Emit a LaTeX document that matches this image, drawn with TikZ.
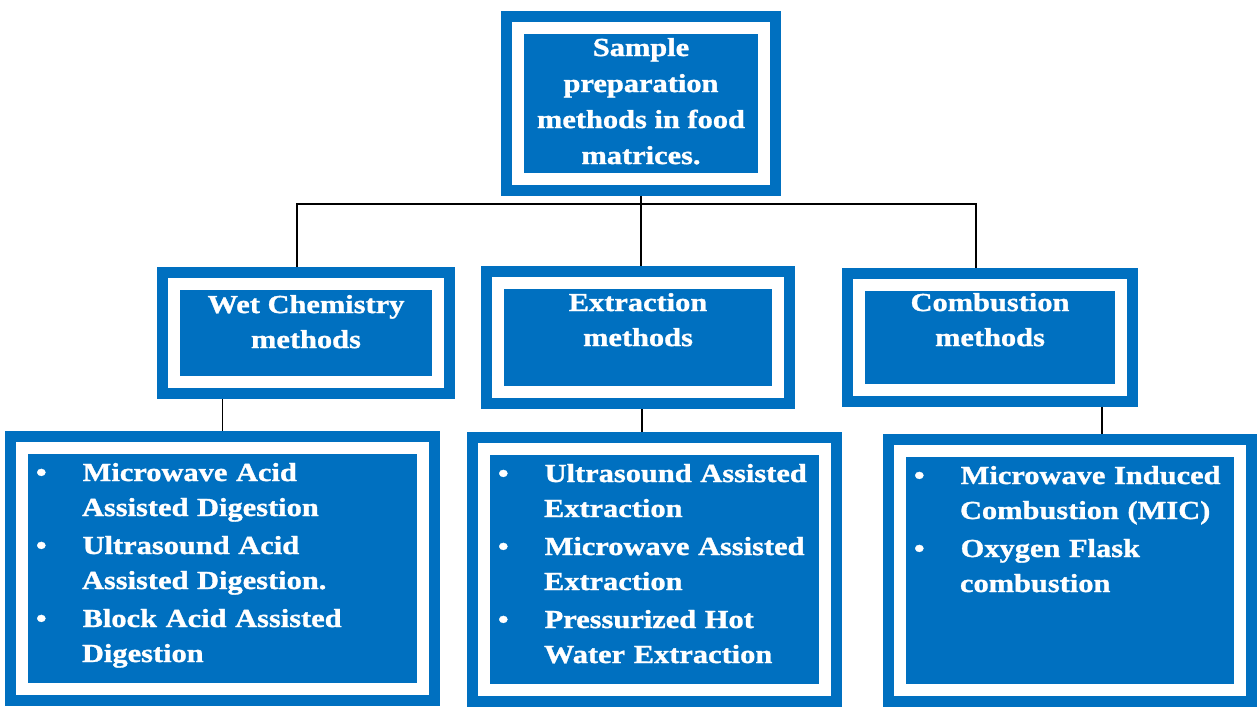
\documentclass[tikz,border=0pt]{standalone}
\usepackage{fontspec}
\setmainfont{Liberation Serif}[FakeStretch=1.17, BoldFeatures={FakeBold=1.2}]
\usepackage{enumitem}
\usetikzlibrary{positioning}
\definecolor{boxblue}{RGB}{0,112,192}
\newlist{methodlist}{itemize}{1}
\setlist[methodlist]{label=\textbullet, leftmargin=27pt, labelindent=4pt, labelwidth=5pt, labelsep=18pt, align=left, topsep=0pt, partopsep=0pt, parsep=0pt, itemsep=1.5pt}
\tikzset{
  boxframe/.style={draw=boxblue, fill=boxblue, line width=5.5pt, double=white, double distance=6pt, inner sep=0pt, outer sep=8.5pt},
  headtext/.style={text=white, font=\bfseries\fontsize{13}{17.5}\selectfont, align=center, inner sep=0pt, outer sep=0pt},
  listtext/.style={text=white, font=\bfseries\fontsize{13}{17.5}\selectfont, align=left, inner sep=0pt, outer sep=0pt},
  link/.style={draw=black, line width=0.75pt}
}
\begin{document}
\begin{tikzpicture}[x=0.5pt,y=-0.5pt]
\useasboundingbox (0,0) rectangle (1257,709);
\node[boxframe, minimum width=123pt, minimum height=75.5pt] (top) at (641,103.5) {};
\node[boxframe, minimum width=132pt, minimum height=49pt] (wet) at (306,333) {};
\node[boxframe, minimum width=140pt, minimum height=54.5pt] (ext) at (638,337.5) {};
\node[boxframe, minimum width=131pt, minimum height=52.5pt] (comb) at (990,337.5) {};
\node[boxframe, minimum width=200.5pt, minimum height=120.5pt] (wetlist) at (222.5,568.5) {};
\node[boxframe, minimum width=170.5pt, minimum height=120.5pt] (extlist) at (654.5,569.5) {};
\node[boxframe, minimum width=170pt, minimum height=119.5pt] (comblist) at (1070,570.5) {};

\node[headtext, font=\bfseries\fontsize{13}{18}\selectfont, below=13.5pt of top.north] (top-t) {Sample\\preparation\\methods in food\\matrices.};
\node[headtext, below=14pt of wet.north] (wet-t) {Wet Chemistry\\methods};
\node[headtext, below=13.5pt of ext.north] (ext-t) {Extraction\\methods};
\node[headtext, below=12.5pt of comb.north] (comb-t) {Combustion\\methods};

\node[listtext, text width=185pt, below right=7.5pt and 11.5pt of wetlist.north west] (wetlist-t) {%
\begin{methodlist}
\item Microwave Acid\\Assisted Digestion
\item Ultrasound Acid\\Assisted Digestion.
\item Block Acid Assisted\\Digestion
\end{methodlist}};
\node[listtext, text width=165pt, below right=7.5pt and 11.5pt of extlist.north west] (extlist-t) {%
\begin{methodlist}
\item Ultrasound Assisted\\Extraction
\item Microwave Assisted\\Extraction
\item Pressurized Hot\\Water Extraction
\end{methodlist}};
\node[listtext, text width=165pt, below right=7.5pt and 11.5pt of comblist.north west] (comblist-t) {%
\begin{methodlist}
\item Microwave Induced\\Combustion (MIC)
\item Oxygen Flask\\combustion
\end{methodlist}};

\coordinate (bus) at ([yshift=-4pt]top.south);
\coordinate (wet-in) at ([xshift=-4.5pt]wet.north);
\coordinate (comb-in) at ([xshift=-7pt]comb.north);
\coordinate (ext-out) at ([xshift=2pt]ext.south);
\coordinate (comb-out) at ([xshift=56pt]comb.south);
\draw[link] (top.south) -- (top.south |- ext.north);
\draw[link] (wet-in) |- (bus) -| (comb-in);
\draw[link] (wet.south -| wetlist.north) -- (wetlist.north);
\draw[link] (ext-out) -- (ext-out |- extlist.north);
\draw[link] (comb-out) -- (comb-out |- comblist.north);
\end{tikzpicture}
\end{document}
